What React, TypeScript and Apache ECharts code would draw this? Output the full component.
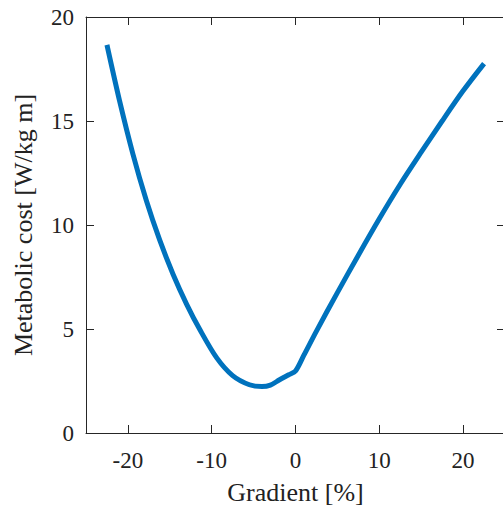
import React, { useEffect, useRef } from "react";
import * as echarts from "echarts";

const gradient = [-22.5, -21, -19.4, -17.8, -16.2, -14.6, -13, -11.4, -9.4, -7.5, -5.5, -4, -3, -1.9, -0.8, 0, 1, 2.5, 5, 7.5, 10, 12.5, 15, 17.5, 20, 22.5];
const cost = [18.66, 15.98, 13.41, 11.18, 9.27, 7.62, 6.2, 4.96, 3.61, 2.76, 2.32, 2.23, 2.3, 2.56, 2.8, 2.98, 3.74, 4.9, 6.75, 8.55, 10.3, 11.96, 13.5, 15.0, 16.45, 17.76];
const xTicks = [-20, -10, 0, 10, 20];
const yTicks = [0, 5, 10, 15, 20];

const FONT = "'Liberation Serif', 'Times New Roman', Times, serif";
const AXIS_COLOR = "#262626";

export default function App() {
  const ref = useRef<HTMLDivElement>(null);
  useEffect(() => {
    if (!ref.current) return;
    const chart = echarts.init(ref.current, null, { renderer: "svg" });
    const axisLine = { show: true, onZero: false, lineStyle: { color: AXIS_COLOR, width: 1 } };
    chart.setOption({
      animation: false,
      backgroundColor: "#fff",
      textStyle: { fontFamily: FONT },
      grid: { left: 86, top: 17, width: 419, height: 419, containLabel: false },
      xAxis: [
        {
          type: "value",
          min: -25,
          max: 25,
          position: "bottom",
          axisLine,
          splitLine: { show: false },
          axisTick: { show: true, inside: true, length: 8, customValues: xTicks, lineStyle: { color: AXIS_COLOR } },
          axisLabel: {
            show: true,
            customValues: xTicks,
            margin: 16,
            color: "#222",
            fontFamily: FONT,
            fontSize: 23,
            formatter: (v: number) => String(v),
          },
          name: "Gradient [%]",
          nameLocation: "middle",
          nameGap: 46,
          nameTextStyle: { color: "#222", fontFamily: FONT, fontSize: 26 },
        },
        {
          type: "value",
          min: -25,
          max: 25,
          position: "top",
          axisLine,
          splitLine: { show: false },
          axisTick: { show: true, inside: true, length: 8, customValues: xTicks, lineStyle: { color: AXIS_COLOR } },
          axisLabel: { show: false },
        },
      ],
      yAxis: [
        {
          type: "value",
          min: 0,
          max: 20,
          interval: 5,
          position: "left",
          axisLine,
          splitLine: { show: false },
          axisTick: { show: true, inside: true, length: 8, customValues: yTicks, lineStyle: { color: AXIS_COLOR } },
          axisLabel: {
            show: true,
            customValues: yTicks,
            margin: 12,
            color: "#222",
            fontFamily: FONT,
            fontSize: 23,
          },
          name: "Metabolic cost [W/kg m]",
          nameLocation: "middle",
          nameGap: 50,
          nameRotate: 90,
          nameTextStyle: { color: "#222", fontFamily: FONT, fontSize: 26 },
        },
        {
          type: "value",
          min: 0,
          max: 20,
          interval: 5,
          position: "right",
          axisLine,
          splitLine: { show: false },
          axisTick: { show: true, inside: true, length: 8, customValues: yTicks, lineStyle: { color: AXIS_COLOR } },
          axisLabel: { show: false },
        },
      ],
      series: [
        {
          type: "line",
          xAxisIndex: 0,
          yAxisIndex: 0,
          data: gradient.map((g, i) => [g, cost[i]]),
          smooth: 0.3,
          showSymbol: false,
          lineStyle: { color: "#0072BD", width: 5 },
        },
      ],
    });
    return () => chart.dispose();
  }, []);
  return (
    <div style={{ position: "fixed", left: 0, top: 0, width: 503, height: 510, overflow: "hidden", background: "#fff" }}>
      <div ref={ref} style={{ width: 520, height: 510 }} />
    </div>
  );
}
